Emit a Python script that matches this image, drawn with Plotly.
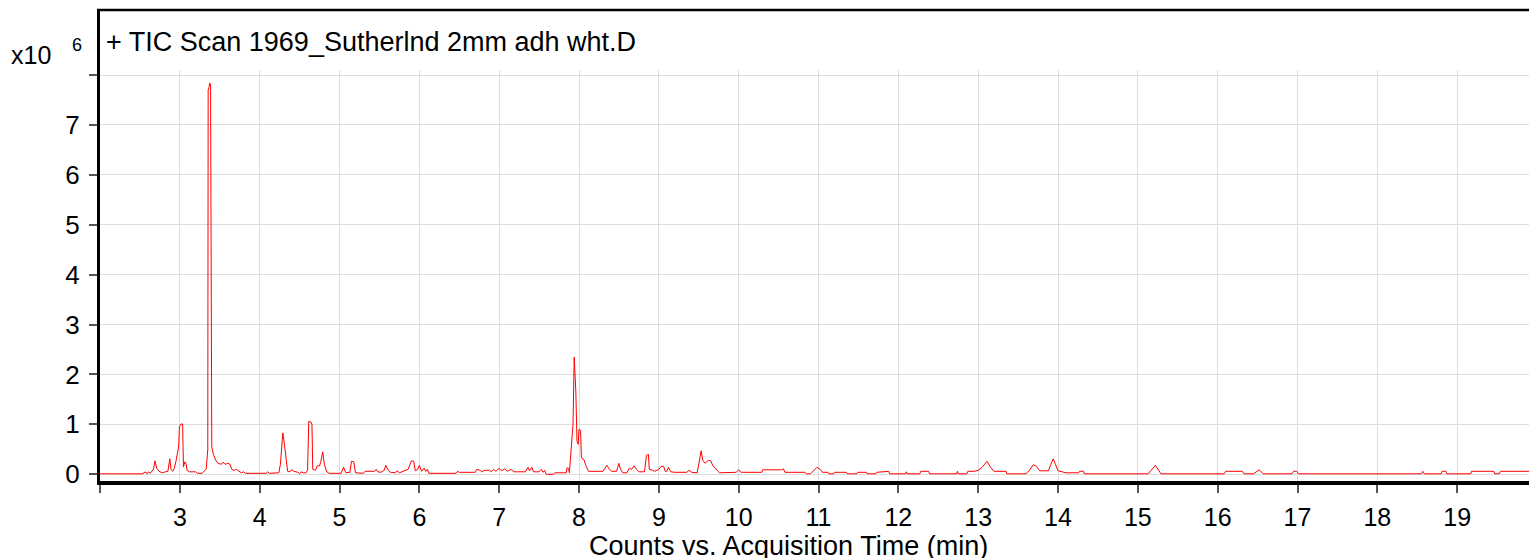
import plotly.graph_objects as go

# Retention time (min) and counts (x10^6)
times = [2.0, 2.54, 2.55, 2.58, 2.59, 2.61, 2.63, 2.65, 2.67, 2.69, 2.71, 2.74, 2.78, 2.82, 2.85,
         2.875, 2.89, 2.91, 2.93, 2.95, 2.97, 2.985, 2.995, 3.01, 3.035, 3.045, 3.055, 3.065, 3.08,
         3.09, 3.12, 3.2, 3.22, 3.28, 3.3, 3.33, 3.35, 3.355, 3.365, 3.375, 3.385, 3.392, 3.40,
         3.42, 3.45, 3.48, 3.52, 3.54, 3.57, 3.60, 3.63, 3.65, 3.68, 3.71, 3.74, 3.77, 3.80, 3.82,
         4.08, 4.1, 4.12, 4.24, 4.26, 4.29, 4.31, 4.33, 4.35, 4.38, 4.40, 4.43, 4.48, 4.5, 4.52,
         4.55, 4.58, 4.60, 4.615, 4.64, 4.655, 4.665, 4.70, 4.72, 4.75, 4.765, 4.79, 4.81, 4.84,
         4.87, 5.02, 5.05, 5.08, 5.13, 5.15, 5.18, 5.20, 5.30, 5.32, 5.44, 5.46, 5.48, 5.52, 5.56,
         5.58, 5.61, 5.64, 5.70, 5.72, 5.75, 5.78, 5.82, 5.86, 5.90, 5.93, 5.95, 5.98, 6.0, 6.03,
         6.06, 6.08, 6.1, 6.12, 6.46, 6.48, 6.50, 6.70, 6.72, 6.76, 6.78, 6.82, 6.88, 6.90, 6.93,
         6.96, 7.0, 7.03, 7.07, 7.1, 7.15, 7.18, 7.22, 7.3, 7.33, 7.36, 7.38, 7.41, 7.43, 7.5,
         7.53, 7.55, 7.57, 7.59, 7.68, 7.70, 7.84, 7.85, 7.87, 7.88, 7.90, 7.925, 7.94, 7.96,
         7.975, 7.99, 8.0, 8.02, 8.03, 8.06, 8.09, 8.12, 8.3, 8.35, 8.38, 8.41, 8.47, 8.5, 8.52,
         8.55, 8.6, 8.63, 8.66, 8.69, 8.72, 8.75, 8.82, 8.845, 8.87, 8.88, 8.92, 8.95, 9.0, 9.03,
         9.06, 9.08, 9.10, 9.12, 9.15, 9.2, 9.35, 9.38, 9.41, 9.48, 9.5, 9.53, 9.55, 9.58, 9.62,
         9.65, 9.68, 9.71, 9.74, 9.76, 9.97, 10.0, 10.03, 10.29, 10.30, 10.54, 10.56, 10.58,
         10.83, 10.85, 10.9, 10.95, 10.98, 11.02, 11.05, 11.12, 11.13, 11.19, 11.20, 11.35, 11.36,
         11.48, 11.49, 11.6, 11.61, 11.72, 11.73, 11.88, 11.89, 12.09, 12.1, 12.11, 12.27, 12.28,
         12.38, 12.39, 12.73, 12.74, 12.75, 12.86, 12.87, 12.95, 13.0, 13.05, 13.11, 13.16, 13.2,
         13.35, 13.36, 13.6, 13.64, 13.69, 13.73, 13.77, 13.88, 13.91, 13.94, 13.97, 14.0, 14.1,
         14.26, 14.27, 14.32, 14.33, 15.13, 15.22, 15.29, 16.08, 16.1, 16.31, 16.33, 16.45, 16.52,
         16.57, 16.93, 16.95, 16.99, 17.01, 18.55, 18.57, 18.59, 18.80, 18.81, 18.86, 18.87,
         19.17, 19.18, 19.46, 19.47, 19.53, 19.54, 20.0]
counts = [0.01, 0.01, 0.04, 0.04, 0.01, 0.05, 0.02, 0.06, 0.1, 0.27, 0.12, 0.06, 0.03, 0.05, 0.06,
          0.31, 0.1, 0.06, 0.12, 0.25, 0.45, 0.55, 0.95, 1.0, 1.01, 0.15, 0.2, 0.25, 0.2,
          0.08, 0.05, 0.05, 0.02, 0.02, 0.06, 0.1, 0.5, 7.7, 7.75, 7.84, 7.8, 1.0, 0.55,
          0.4, 0.28, 0.22, 0.2, 0.24, 0.2, 0.22, 0.2, 0.1, 0.08, 0.1, 0.06, 0.03, 0.05, 0.02,
          0.02, 0.05, 0.02, 0.03, 0.2, 0.83, 0.6, 0.25, 0.06, 0.05, 0.09, 0.06, 0.04, 0.01, 0.05,
          0.03, 0.03, 0.08, 1.06, 1.05, 1.0, 0.1, 0.08, 0.17, 0.17, 0.25, 0.45, 0.2, 0.05,
          0.02, 0.02, 0.14, 0.03, 0.04, 0.26, 0.25, 0.03, 0.02, 0.06, 0.06, 0.1, 0.05, 0.04, 0.08,
          0.18, 0.08, 0.04, 0.03, 0.07, 0.03, 0.05, 0.08, 0.1, 0.27, 0.26, 0.07, 0.1, 0.18, 0.06,
          0.12, 0.06, 0.1, 0.02, 0.02, 0.06, 0.04, 0.04, 0.1, 0.08, 0.05, 0.08, 0.08, 0.05, 0.1,
          0.06, 0.12, 0.07, 0.11, 0.06, 0.1, 0.05, 0.05, 0.06, 0.05, 0.14, 0.07, 0.14, 0.05, 0.05,
          0.1, 0.04, 0.08, 0.0, 0.0, 0.03, 0.03, 0.13, 0.12, 0.03, 0.5, 1.0, 2.35, 1.67,
          0.66, 0.6, 0.9, 0.88, 0.33, 0.3, 0.16, 0.06, 0.06, 0.18, 0.1, 0.06, 0.06, 0.22, 0.1,
          0.03, 0.03, 0.12, 0.1, 0.17, 0.1, 0.05, 0.05, 0.38, 0.4, 0.1, 0.08, 0.06, 0.1, 0.16,
          0.16, 0.06, 0.06, 0.14, 0.05, 0.04, 0.04, 0.08, 0.04, 0.03, 0.2, 0.47, 0.28, 0.22, 0.28,
          0.27, 0.16, 0.12, 0.06, 0.03, 0.04, 0.09, 0.04, 0.04, 0.09, 0.09, 0.11, 0.04,
          0.04, 0.01, 0.01, 0.1, 0.14, 0.1, 0.04, 0.04, 0.01, 0.01, 0.04, 0.04, 0.01,
          0.01, 0.04, 0.04, 0.01, 0.01, 0.04, 0.06, 0.01, 0.01, 0.05, 0.01, 0.01, 0.06,
          0.06, 0.01, 0.01, 0.06, 0.01, 0.01, 0.06, 0.06, 0.08, 0.14, 0.26, 0.13, 0.06,
          0.06, 0.01, 0.01, 0.08, 0.19, 0.16, 0.07, 0.07, 0.2, 0.31, 0.19, 0.07, 0.03,
          0.03, 0.06, 0.06, 0.01, 0.01, 0.18, 0.01, 0.01, 0.06, 0.06, 0.01, 0.01, 0.09,
          0.01, 0.01, 0.06, 0.06, 0.01, 0.01, 0.06, 0.01, 0.01, 0.06, 0.06, 0.01,
          0.01, 0.06, 0.06, 0.01, 0.01, 0.06, 0.06]

x_tick_vals = list(range(2, 20))
x_tick_text = [""] + [str(v) for v in range(3, 20)]
y_tick_vals = list(range(0, 9))
y_tick_text = [str(v) for v in range(0, 8)] + [""]

FONT = "Arial, Liberation Sans, sans-serif"

# The page body has an 8px margin; the figure is sized/placed to compensate.
OFF = 8
W, H = 1537 - OFF, 558 - OFF
PLOT_L, PLOT_T, PLOT_B = 100, 70, 481          # screen pixels
ml, mr = PLOT_L - OFF, 0
mt = PLOT_T - OFF
mb = H - (PLOT_B - OFF)
pw = W - ml - mr
ph = H - mt - mb


def px_x(sx):
    return (sx - PLOT_L) / pw


def px_y(sy):
    return (PLOT_B - sy) / ph


fig = go.Figure()
fig.add_trace(go.Scatter(x=times, y=counts, mode="lines",
                         line=dict(color="#FF0000", width=1), hoverinfo="skip"))

fig.update_layout(
    width=W, height=H,
    margin=dict(l=ml, r=mr, t=mt, b=mb, pad=0),
    paper_bgcolor="white", plot_bgcolor="white",
    showlegend=False,
    font=dict(family=FONT, color="black"),
    xaxis=dict(range=[2, 20], tickvals=x_tick_vals, ticktext=x_tick_text,
               ticks="outside", ticklen=8, tickcolor="#555", tickwidth=1.5,
               tickfont=dict(size=25, family=FONT, color="black"),
               ticklabelstandoff=3,
               showgrid=True, gridcolor="#DDDDDD", gridwidth=1,
               showline=True, linecolor="black", linewidth=4,
               zeroline=False),
    yaxis=dict(range=[-(PLOT_B - 474.3) / 49.91, (474.3 - PLOT_T) / 49.91],
               tickvals=y_tick_vals, ticktext=y_tick_text,
               ticks="outside", ticklen=8, tickcolor="#555", tickwidth=1.5,
               tickfont=dict(size=26, family=FONT, color="black"),
               ticklabelstandoff=4,
               showgrid=True, gridcolor="#DDDDDD", gridwidth=1,
               showline=True, linecolor="black", linewidth=3,
               zeroline=False),
)

# frame extension above the plot area (title box)
fig.add_shape(type="line", xref="paper", yref="paper", x0=px_x(98.5), x1=px_x(98.5),
              y0=1, y1=px_y(9), line=dict(color="black", width=3))
fig.add_shape(type="line", xref="paper", yref="paper", x0=px_x(97), x1=1,
              y0=px_y(10), y1=px_y(10), line=dict(color="black", width=2.5))

fig.add_annotation(text="+ TIC Scan 1969_Sutherlnd 2mm adh wht.D", xref="paper", yref="paper",
                   x=px_x(104), y=px_y(42), xanchor="left", yanchor="middle",
                   showarrow=False, font=dict(size=27, family=FONT, color="black"))
fig.add_annotation(text="x10", xref="paper", yref="paper",
                   x=px_x(9), y=px_y(55), xanchor="left", yanchor="middle",
                   showarrow=False, font=dict(size=25, family=FONT, color="black"))
fig.add_annotation(text="6", xref="paper", yref="paper",
                   x=px_x(77), y=px_y(45), xanchor="center", yanchor="middle",
                   showarrow=False, font=dict(size=18, family=FONT, color="black"))
fig.add_annotation(text="Counts vs. Acquisition Time (min)", xref="paper", yref="paper",
                   x=px_x(788), y=px_y(546), xanchor="center", yanchor="middle",
                   showarrow=False, font=dict(size=27, family=FONT, color="black"))

fig.write_html("out.html")
